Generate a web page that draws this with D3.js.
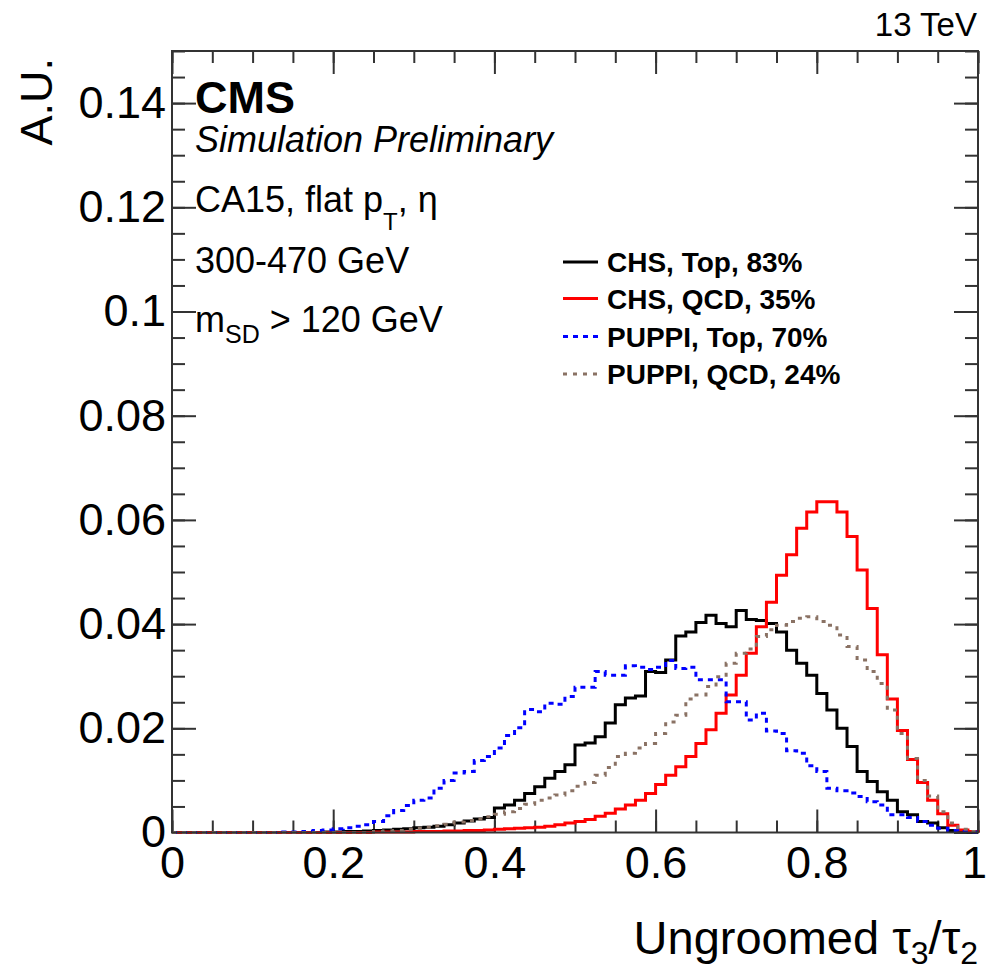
<!DOCTYPE html>
<html>
<head>
<meta charset="utf-8">
<script src="https://cdn.jsdelivr.net/npm/d3@7"></script>
<style>
  html, body { margin: 0; padding: 0; background: #fff; }
  svg { display: block; font-family: "Liberation Sans", Arial, Helvetica, sans-serif; }
</style>
</head>
<body>
<svg id="chart" width="989" height="973"></svg>
<script>
// Histogram binning: 80 uniform bins on [0, 1]
const nBins = 80;
const xRange = [0, 1];
const yRange = [0, 0.15];

// Normalised bin contents (A.U.), one value per bin
const chsTop = [
  0, 0, 0, 0, 0, 0, 0, 0, 0, 0, 0, 0, 0, 0, 0,
  0.0001, 0.0001, 0.0002, 0.0002, 0.0003,
  0.0004, 0.0005, 0.0006, 0.0007, 0.0009,
  0.0010, 0.0012, 0.0015, 0.0018, 0.0022,
  0.0026, 0.0029, 0.0047, 0.0053, 0.0062,
  0.0075, 0.0088, 0.0104, 0.0117, 0.0130,
  0.0168, 0.0172, 0.0184, 0.0210, 0.0245,
  0.0258, 0.0262, 0.0309, 0.0307, 0.0331,
  0.0377, 0.0385, 0.0403, 0.0417, 0.0401,
  0.0395, 0.0426, 0.0409, 0.0407, 0.0401,
  0.0385, 0.0350, 0.0325, 0.0302, 0.0267,
  0.0235, 0.0200, 0.0165, 0.0117, 0.0098,
  0.0078, 0.0062, 0.0040, 0.0034, 0.0021,
  0.0018, 0.0009, 0.0004, 0.0002, 0.0001
];

const chsQcd = [
  0, 0, 0, 0, 0, 0, 0, 0, 0, 0, 0, 0, 0, 0, 0, 0, 0, 0, 0, 0,
  0.0001, 0.0001, 0.0001, 0.0001, 0.0002,
  0.0002, 0.0002, 0.0003, 0.0003, 0.0004,
  0.0004, 0.0005, 0.0006, 0.0007, 0.0008,
  0.0009, 0.0010, 0.0012, 0.0015, 0.0018,
  0.0021, 0.0025, 0.0031, 0.0037, 0.0045,
  0.0053, 0.0062, 0.0075, 0.0092, 0.0110,
  0.0126, 0.0146, 0.0171, 0.0197, 0.0229,
  0.0264, 0.0302, 0.0344, 0.0395, 0.0442,
  0.0494, 0.0533, 0.0584, 0.0615, 0.0635,
  0.0635, 0.0615, 0.0568, 0.0504, 0.0430,
  0.0341, 0.0256, 0.0196, 0.0140, 0.0096,
  0.0062, 0.0036, 0.0014, 0.0005, 0.0002
];

const puppiTop = [
  0, 0, 0, 0, 0, 0, 0, 0, 0, 0, 0,
  0.0001, 0.0001, 0.0002, 0.0004,
  0.0005, 0.0007, 0.0009, 0.0012, 0.0015,
  0.0021, 0.0032, 0.0042, 0.0052, 0.0062,
  0.0066, 0.0085, 0.0100, 0.0114, 0.0117,
  0.0138, 0.0146, 0.0162, 0.0186, 0.0201,
  0.0236, 0.0232, 0.0248, 0.0246, 0.0261,
  0.0279, 0.0279, 0.0309, 0.0302, 0.0302,
  0.0320, 0.0317, 0.0313, 0.0317, 0.0330,
  0.0315, 0.0317, 0.0293, 0.0293, 0.0293,
  0.0251, 0.0251, 0.0216, 0.0229, 0.0195,
  0.0190, 0.0157, 0.0152, 0.0128, 0.0117,
  0.0085, 0.0080, 0.0076, 0.0069, 0.0059,
  0.0053, 0.0034, 0.0034, 0.0029, 0.0021,
  0.0014, 0.0008, 0.0004, 0.0002, 0.0001
];

const puppiQcd = [
  0, 0, 0, 0, 0, 0, 0, 0, 0, 0, 0, 0, 0, 0, 0, 0, 0, 0, 0, 0,
  0.0002, 0.0003, 0.0004, 0.0006, 0.0008,
  0.0010, 0.0013, 0.0016, 0.0020, 0.0023,
  0.0026, 0.0030, 0.0035, 0.0040, 0.0046,
  0.0054, 0.0062, 0.0066, 0.0072, 0.0080,
  0.0089, 0.0096, 0.0110, 0.0125, 0.0146,
  0.0152, 0.0162, 0.0171, 0.0190, 0.0212,
  0.0225, 0.0256, 0.0264, 0.0280, 0.0299,
  0.0325, 0.0344, 0.0352, 0.0376, 0.0389,
  0.0398, 0.0405, 0.0411, 0.0414, 0.0405,
  0.0398, 0.0379, 0.0357, 0.0331, 0.0309,
  0.0286, 0.0235, 0.0190, 0.0142, 0.0100,
  0.0070, 0.0040, 0.0018, 0.0006, 0.0002
];

// Legend entries and series styling
const seriesNames = ["CHS, Top, 83%", "CHS, QCD, 35%", "PUPPI, Top, 70%", "PUPPI, QCD, 24%"];
const seriesValues = [chsTop, chsQcd, puppiTop, puppiQcd];
const seriesColors = ["#000000", "#ff0000", "#0000ff", "#8a7264"];
const seriesDash = [null, null, "5,5", "4,6"];

// Axis ticks and labels
const xMajorTicks = [0, 0.2, 0.4, 0.6, 0.8, 1];
const xTickLabels = ["0", "0.2", "0.4", "0.6", "0.8", "1"];
const xMinorTicks = d3.range(0, 1.0001, 0.05);
const yMajorTicks = [0, 0.02, 0.04, 0.06, 0.08, 0.1, 0.12, 0.14];
const yTickLabels = ["0", "0.02", "0.04", "0.06", "0.08", "0.1", "0.12", "0.14"];
const yMinorTicks = d3.range(0, 0.1501, 0.005);

const svg = d3.select("#chart");
const W = 989, H = 973;
const plot = { left: 172, right: 978, top: 51, bottom: 832.5 };

const x = d3.scaleLinear().domain(xRange).range([plot.left, plot.right]);
const y = d3.scaleLinear().domain(yRange).range([plot.bottom, plot.top]);

svg.append("rect").attr("width", W).attr("height", H).attr("fill", "#fff");

const axisColor = "#333";

// Minor ticks (all four sides)
function styleAxis(g) {
  g.select(".domain").remove();
  g.selectAll(".tick line").attr("stroke", axisColor).attr("stroke-width", 2);
}
svg.append("g").attr("transform", `translate(0,${plot.bottom})`)
  .call(d3.axisBottom(x).tickValues(xMinorTicks).tickSize(-12).tickFormat(""))
  .call(styleAxis);
svg.append("g").attr("transform", `translate(0,${plot.top})`)
  .call(d3.axisTop(x).tickValues(xMinorTicks).tickSize(-12).tickFormat(""))
  .call(styleAxis);
svg.append("g").attr("transform", `translate(${plot.left},0)`)
  .call(d3.axisLeft(y).tickValues(yMinorTicks).tickSize(-13).tickFormat(""))
  .call(styleAxis);
svg.append("g").attr("transform", `translate(${plot.right},0)`)
  .call(d3.axisRight(y).tickValues(yMinorTicks).tickSize(-13).tickFormat(""))
  .call(styleAxis);

// Major ticks with labels
const xAxis = svg.append("g").attr("transform", `translate(0,${plot.bottom})`)
  .call(d3.axisBottom(x).tickValues(xMajorTicks).tickSize(-23).tickPadding(14)
    .tickFormat((d, i) => xTickLabels[i]))
  .call(styleAxis);
xAxis.selectAll("text").attr("font-size", 45).attr("fill", "#000")
  .attr("font-family", "Liberation Sans, Arial, sans-serif");
// keep the last label ("1") inside the page edge
xAxis.selectAll("text").filter(d => d === 1).attr("dx", -4);

svg.append("g").attr("transform", `translate(0,${plot.top})`)
  .call(d3.axisTop(x).tickValues(xMajorTicks).tickSize(-23).tickFormat(""))
  .call(styleAxis);

const yAxis = svg.append("g").attr("transform", `translate(${plot.left},0)`)
  .call(d3.axisLeft(y).tickValues(yMajorTicks).tickSize(-24).tickPadding(6)
    .tickFormat((d, i) => yTickLabels[i]))
  .call(styleAxis);
yAxis.selectAll("text").attr("font-size", 45).attr("fill", "#000")
  .attr("font-family", "Liberation Sans, Arial, sans-serif");

svg.append("g").attr("transform", `translate(${plot.right},0)`)
  .call(d3.axisRight(y).tickValues(yMajorTicks).tickSize(-24).tickFormat(""))
  .call(styleAxis);

// Step histograms
const binWidth = (xRange[1] - xRange[0]) / nBins;
function histPoints(vals) {
  const pts = [[xRange[0], 0]];
  vals.forEach((v, i) => {
    pts.push([xRange[0] + i * binWidth, v]);
  });
  pts.push([xRange[1], vals[vals.length - 1]]);
  pts.push([xRange[1], 0]);
  return pts;
}
const stepLine = d3.line()
  .x(d => x(d[0]))
  .y(d => y(d[1]))
  .curve(d3.curveStepAfter);

const histG = svg.append("g");
seriesValues.forEach((vals, k) => {
  histG.append("path")
    .attr("d", stepLine(histPoints(vals)))
    .attr("fill", "none")
    .attr("stroke", seriesColors[k])
    .attr("stroke-width", 3)
    .attr("stroke-dasharray", seriesDash[k])
    .attr("stroke-linejoin", "miter");
});

// Frame
svg.append("rect")
  .attr("x", plot.left).attr("y", plot.top)
  .attr("width", plot.right - plot.left).attr("height", plot.bottom - plot.top)
  .attr("fill", "none").attr("stroke", axisColor).attr("stroke-width", 2);

// Axis titles
svg.append("text")
  .attr("transform", "translate(52,58) rotate(-90)")
  .attr("text-anchor", "end")
  .attr("font-size", 45)
  .text("A.U.");

const xTitle = svg.append("text")
  .attr("x", plot.right).attr("y", 954)
  .attr("text-anchor", "end")
  .attr("font-size", 47);
xTitle.append("tspan").text("Ungroomed τ");
xTitle.append("tspan").attr("font-size", 32).attr("dy", 10).text("3");
xTitle.append("tspan").attr("dy", -10).text("/τ");
xTitle.append("tspan").attr("font-size", 32).attr("dy", 10).text("2");

// Energy label
svg.append("text")
  .attr("x", 977).attr("y", 36)
  .attr("text-anchor", "end")
  .attr("font-size", 33)
  .text("13 TeV");

// CMS label and selection text
svg.append("text").attr("x", 195).attr("y", 113)
  .attr("font-size", 45).attr("font-weight", "bold").text("CMS");
svg.append("text").attr("x", 195).attr("y", 152)
  .attr("font-size", 36).attr("font-style", "italic").text("Simulation Preliminary");

const l1 = svg.append("text").attr("x", 195).attr("y", 212).attr("font-size", 36);
l1.append("tspan").text("CA15, flat p");
l1.append("tspan").attr("font-size", 24).attr("dy", 18).text("T");
l1.append("tspan").attr("dy", -18).text(", η");

svg.append("text").attr("x", 195).attr("y", 273).attr("font-size", 36).text("300-470 GeV");

const l3 = svg.append("text").attr("x", 195).attr("y", 332).attr("font-size", 36);
l3.append("tspan").text("m");
l3.append("tspan").attr("font-size", 25).attr("dy", 11).text("SD");
l3.append("tspan").attr("dy", -11).text(" > 120 GeV");

// Legend
const legendRows = [262, 298.5, 336.5, 374];
const legend = svg.append("g");
seriesNames.forEach((name, k) => {
  const ly = legendRows[k];
  legend.append("line")
    .attr("x1", 563).attr("x2", 598).attr("y1", ly).attr("y2", ly)
    .attr("stroke", seriesColors[k]).attr("stroke-width", 3)
    .attr("stroke-dasharray", seriesDash[k]);
  legend.append("text")
    .attr("x", 607).attr("y", ly + 10)
    .attr("font-size", 28).attr("font-weight", "bold")
    .text(name);
});
</script>
</body>
</html>
